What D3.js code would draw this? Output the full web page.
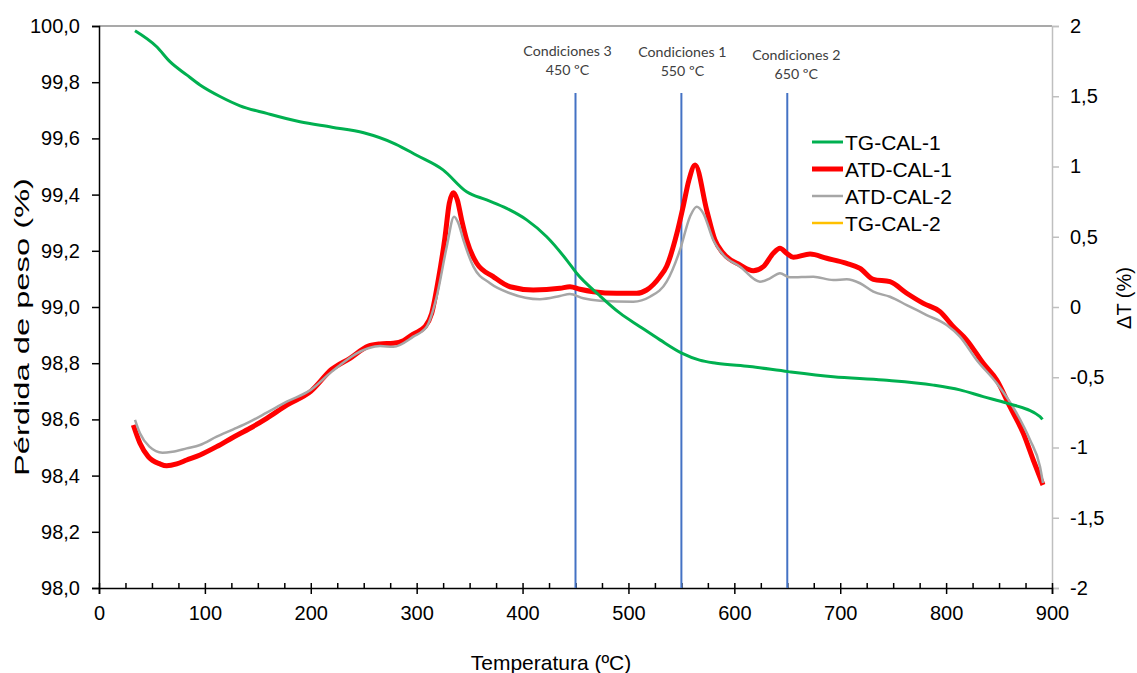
<!DOCTYPE html>
<html lang="es">
<head>
  <meta charset="UTF-8">
  <title>TG / ATD</title>
  <script src="https://d3js.org/d3.v7.min.js"></script>
  <style>
    body { margin: 0; background: #fff; }
    svg text { font-family: "Liberation Sans", Arial, sans-serif; }
  </style>
</head>
<body>
  <svg width="1137" height="673"></svg>

  <script>
    // TG-CAL-1 (left axis, %)
    const tgTemp = [34, 54.5, 67, 82.8, 95.4, 114.3, 133.2, 158.4, 189.8, 220, 250, 280, 300, 324.9, 347.2, 366.1, 385, 403.9, 422.8, 441.7, 451.1, 473, 492, 510.9, 529.8, 550.3, 567.2, 583, 614.5, 651, 693.4, 740.7, 787.9, 813, 835, 857.2, 888.7, 891];
    const tgValues = [99.983, 99.926, 99.873, 99.826, 99.790, 99.749, 99.716, 99.689, 99.659, 99.64, 99.62, 99.58, 99.54, 99.488, 99.410, 99.381, 99.351, 99.310, 99.250, 99.167, 99.120, 99.040, 98.978, 98.930, 98.883, 98.836, 98.811, 98.800, 98.788, 98.770, 98.752, 98.740, 98.722, 98.705, 98.681, 98.658, 98.610, 98.600];

    // ATD-CAL-1 (right axis, ΔT %)
    const atd1Temp = [32.4, 38.7, 46.5, 57.6, 63.9, 73.4, 82.8, 95.4, 111.1, 126.8, 142.6, 158.4, 177.3, 200, 219.8, 237, 254.3, 265.4, 278, 287.4, 296.8, 307.9, 314.2, 320.4, 326.8, 330.8, 334.6, 338.4, 342.5, 347.2, 356.7, 372.3, 388.1, 410.1, 435.3, 444.8, 454.2, 466.8, 488.9, 507.8, 517.2, 529.8, 536.1, 545.6, 551.8, 557, 563, 573.9, 581.7, 589.6, 605.4, 617.9, 627.4, 636.8, 643.1, 649.5, 655.7, 671.5, 687.2, 706.1, 718.7, 731.3, 747, 762.8, 778.5, 794.2, 806.8, 819.4, 835.1, 847.8, 860.3, 872.9, 882.3, 891.5];
    const atd1Values = [-0.840, -0.970, -1.065, -1.117, -1.130, -1.117, -1.089, -1.053, -0.994, -0.927, -0.863, -0.792, -0.698, -0.60, -0.443, -0.365, -0.278, -0.263, -0.258, -0.240, -0.192, -0.140, -0.045, 0.192, 0.500, 0.738, 0.814, 0.762, 0.619, 0.477, 0.311, 0.216, 0.144, 0.121, 0.133, 0.144, 0.126, 0.109, 0.098, 0.098, 0.121, 0.216, 0.29, 0.52, 0.72, 0.90, 1.011, 0.690, 0.477, 0.382, 0.299, 0.258, 0.287, 0.382, 0.418, 0.382, 0.354, 0.377, 0.347, 0.311, 0.275, 0.197, 0.180, 0.098, 0.026, -0.033, -0.140, -0.235, -0.401, -0.520, -0.710, -0.899, -1.089, -1.267];

    // ATD-CAL-2 (right axis, ΔT %)
    const atd2Temp = [34, 38.7, 47.6, 59.9, 69.3, 82.8, 95.4, 111.1, 126.8, 142.6, 158.4, 177.3, 200, 219.8, 254.3, 265.4, 278, 296.8, 309.5, 318.9, 328.4, 335.3, 339.4, 344.1, 353.6, 369.3, 388.1, 416.4, 435.3, 444.8, 457.3, 473.1, 504.6, 520.3, 536.1, 548.7, 558.1, 564.4, 570.7, 580.1, 589.6, 605.4, 624.2, 633.7, 643.1, 652.6, 674.6, 693.4, 706.1, 718.7, 731.3, 747, 762.8, 781.6, 800.5, 813, 828.8, 847.8, 866.7, 879.3, 888.7, 891.5];
    const atd2Values = [-0.804, -0.899, -0.994, -1.037, -1.030, -1.006, -0.982, -0.923, -0.871, -0.816, -0.752, -0.674, -0.59, -0.460, -0.294, -0.278, -0.283, -0.211, -0.140, 0.073, 0.429, 0.643, 0.596, 0.477, 0.287, 0.169, 0.098, 0.055, 0.078, 0.093, 0.062, 0.045, 0.038, 0.073, 0.180, 0.406, 0.643, 0.714, 0.667, 0.477, 0.370, 0.287, 0.180, 0.204, 0.240, 0.211, 0.216, 0.192, 0.197, 0.169, 0.109, 0.073, 0.014, -0.057, -0.128, -0.211, -0.377, -0.543, -0.757, -0.947, -1.137, -1.253];

    // vertical markers
    const markerTemps = [450, 550, 650];
    const markerNames = ["Condiciones 3", "Condiciones 1", "Condiciones 2"];
    const markerLabels = ["450 ºC", "550 ºC", "650 ºC"];

    const xTicks = [0, 100, 200, 300, 400, 500, 600, 700, 800, 900];
    const leftTicks = [98.0, 98.2, 98.4, 98.6, 98.8, 99.0, 99.2, 99.4, 99.6, 99.8, 100.0];
    const rightTicks = [-2, -1.5, -1, -0.5, 0, 0.5, 1, 1.5, 2];

    const legendNames = ["TG-CAL-1", "ATD-CAL-1", "ATD-CAL-2", "TG-CAL-2"];
    const legendColors = ["#00B050", "#FF0000", "#A6A6A6", "#FFC000"];
    const legendWidths = [3, 5, 2.5, 2.5];

    const svg = d3.select("svg");
    const plotLeft = 99, plotRight = 1052, plotTop = 26, plotBottom = 588;

    const x = d3.scaleLinear().domain([0, 900]).range([plotLeft, plotRight]);
    const yL = d3.scaleLinear().domain([98, 100]).range([plotBottom, plotTop]);
    const yR = d3.scaleLinear().domain([-2, 2]).range([plotBottom, plotTop]);

    const comma = d => d3.format(".1f")(d).replace(".", ",");
    const commaR = d => String(d).replace(".", ",");

    // top border
    svg.append("line")
      .attr("x1", plotLeft).attr("x2", plotRight).attr("y1", plotTop).attr("y2", plotTop)
      .attr("stroke", "#8c8c8c").attr("stroke-width", 1.5);

    // right axis (gray)
    const rAxis = svg.append("g")
      .attr("transform", `translate(${plotRight},0)`)
      .call(d3.axisRight(yR).tickValues(rightTicks).tickSize(7).tickPadding(11).tickFormat(commaR));
    rAxis.select(".domain").attr("stroke", "#bfbfbf").attr("stroke-width", 1.5);
    rAxis.selectAll(".tick line").attr("stroke", "#bfbfbf").attr("stroke-width", 1.5);
    rAxis.selectAll("text").attr("font-size", 20).attr("fill", "#000")
      .attr("font-family", "Liberation Sans, Arial, sans-serif");

    // left axis
    const lAxis = svg.append("g")
      .attr("transform", `translate(${plotLeft},0)`)
      .call(d3.axisLeft(yL).tickValues(leftTicks).tickSize(7).tickPadding(12).tickFormat(comma));
    lAxis.select(".domain").attr("stroke", "#000").attr("stroke-width", 1.5);
    lAxis.selectAll(".tick line").attr("stroke", "#000").attr("stroke-width", 1.5);
    lAxis.selectAll("text").attr("font-size", 20).attr("fill", "#000")
      .attr("font-family", "Liberation Sans, Arial, sans-serif");

    // bottom axis: minor ticks every 25, inside
    const minorTicks = d3.range(0, 901, 25).filter(d => d % 100 !== 0);
    const xMinor = svg.append("g")
      .attr("transform", `translate(0,${plotBottom})`)
      .call(d3.axisBottom(x).tickValues(minorTicks).tickSizeInner(-5).tickSizeOuter(0).tickFormat(""));
    xMinor.select(".domain").remove();
    xMinor.selectAll(".tick line").attr("stroke", "#000").attr("stroke-width", 1.5);

    const xAxis = svg.append("g")
      .attr("transform", `translate(0,${plotBottom})`)
      .call(d3.axisBottom(x).tickValues(xTicks).tickSizeOuter(0).tickSize(6).tickPadding(12));
    xAxis.select(".domain").attr("stroke", "#000").attr("stroke-width", 1.5);
    xAxis.selectAll(".tick line").attr("stroke", "#000").attr("stroke-width", 1.5).attr("y1", -5);
    xAxis.selectAll("text").attr("font-size", 20).attr("fill", "#000")
      .attr("font-family", "Liberation Sans, Arial, sans-serif");

    // vertical condition lines
    svg.selectAll(".marker")
      .data(markerTemps)
      .enter().append("line")
      .attr("class", "marker")
      .attr("x1", d => x(d)).attr("x2", d => x(d))
      .attr("y1", 93).attr("y2", plotBottom)
      .attr("stroke", "#4472C4").attr("stroke-width", 2);

    const labelY1 = [51, 52, 55];
    const labelShift = [-8, 1, 9];
    svg.selectAll(".markerName")
      .data(markerTemps)
      .enter().append("text")
      .attr("class", "markerName")
      .attr("x", (d, i) => x(d) + labelShift[i])
      .attr("y", (d, i) => labelY1[i] + 5)
      .attr("text-anchor", "middle")
      .attr("font-size", 14.2)
      .style("font-family", "Lato, 'Open Sans', sans-serif")
      .attr("fill", "#404040")
      .text((d, i) => markerNames[i]);

    svg.selectAll(".markerTemp")
      .data(markerTemps)
      .enter().append("text")
      .attr("class", "markerTemp")
      .attr("x", (d, i) => x(d) + labelShift[i])
      .attr("y", (d, i) => labelY1[i] + 24)
      .attr("text-anchor", "middle")
      .attr("font-size", 14.2)
      .style("font-family", "Lato, 'Open Sans', sans-serif")
      .attr("fill", "#404040")
      .text((d, i) => markerLabels[i]);

    // series
    const lineL = d3.line()
      .x(d => x(d[0])).y(d => yL(d[1]))
      .curve(d3.curveMonotoneX);
    const lineR = d3.line()
      .x(d => x(d[0])).y(d => yR(d[1]))
      .curve(d3.curveMonotoneX);

    const tgData = d3.zip(tgTemp, tgValues);
    const atd1Data = d3.zip(atd1Temp, atd1Values);
    const atd2Data = d3.zip(atd2Temp, atd2Values);

    svg.append("path")
      .datum(atd1Data)
      .attr("d", lineR)
      .attr("fill", "none")
      .attr("stroke", "#FF0000")
      .attr("stroke-width", 5)
      .attr("stroke-linejoin", "round");

    svg.append("path")
      .datum(atd2Data)
      .attr("d", lineR)
      .attr("fill", "none")
      .attr("stroke", "#A6A6A6")
      .attr("stroke-width", 2.5)
      .attr("stroke-linejoin", "round");

    svg.append("path")
      .datum(tgData)
      .attr("d", lineL)
      .attr("fill", "none")
      .attr("stroke", "#00B050")
      .attr("stroke-width", 3)
      .attr("stroke-linejoin", "round");

    // legend
    const legendY = [142, 169, 196, 223];
    const legend = svg.selectAll(".legend")
      .data(legendNames)
      .enter().append("g")
      .attr("class", "legend")
      .attr("transform", (d, i) => `translate(812,${legendY[i]})`);
    legend.append("line")
      .attr("x1", 0).attr("x2", 31)
      .attr("stroke", (d, i) => legendColors[i])
      .attr("stroke-width", (d, i) => legendWidths[i]);
    legend.append("text")
      .attr("x", 33).attr("y", 0)
      .attr("dy", "0.36em")
      .attr("font-size", 21)
      .attr("fill", "#000")
      .text(d => d);

    // axis titles
    svg.append("text")
      .attr("x", 551).attr("y", 670)
      .attr("text-anchor", "middle")
      .attr("font-size", 21)
      .attr("fill", "#000")
      .text("Temperatura (ºC)");

    svg.append("text")
      .attr("transform", "translate(29,327) rotate(-90)")
      .attr("text-anchor", "middle")
      .attr("font-size", 20)
      .attr("textLength", 298)
      .attr("lengthAdjust", "spacingAndGlyphs")
      .attr("fill", "#000")
      .text("Pérdida de peso (%)");

    svg.append("text")
      .attr("transform", "translate(1131,298) rotate(-90)")
      .attr("text-anchor", "middle")
      .attr("font-size", 20)
      .attr("fill", "#000")
      .text("ΔT (%)");
  </script>
</body>
</html>
